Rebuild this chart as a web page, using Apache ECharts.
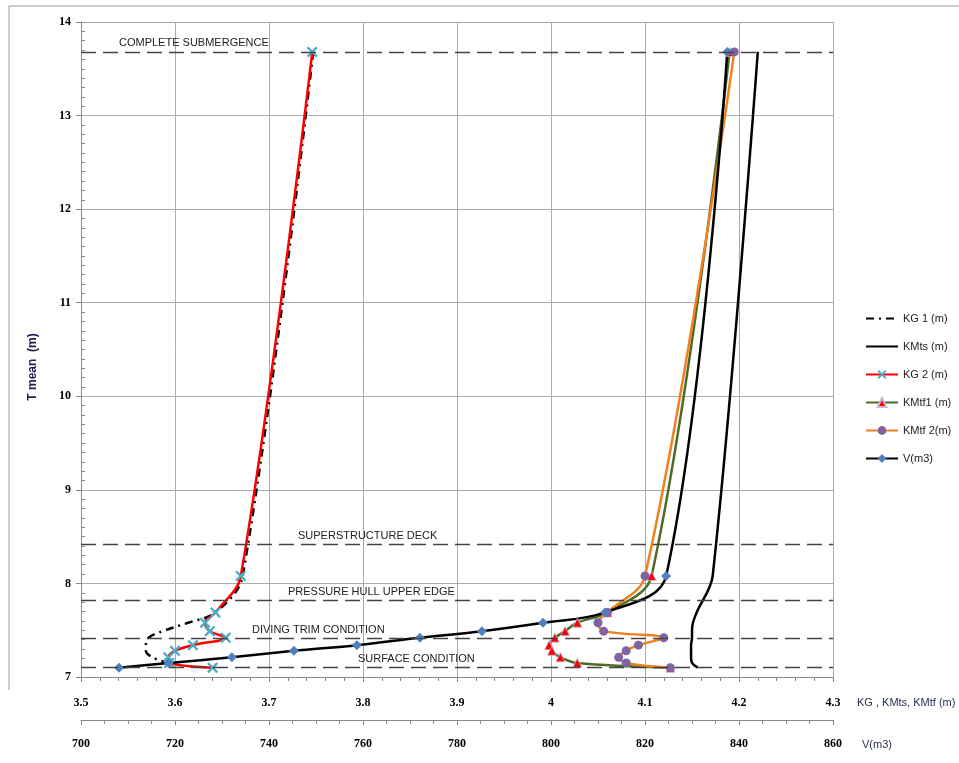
<!DOCTYPE html>
<html><head><meta charset="utf-8">
<script src="https://cdn.jsdelivr.net/npm/echarts@6/dist/echarts.min.js"></script>
<style>html,body{margin:0;padding:0;background:#fff}#c{width:959px;height:763px}</style>
</head><body><div id="c"></div>
<script>
// ---- data ----
const T      = [13.68, 8.08, 7.69, 7.58, 7.49, 7.42, 7.34, 7.28, 7.21, 7.15, 7.10];
const KG1    = [3.747, 3.672, 3.643, 3.614, 3.587, 3.572, 3.569, 3.569, 3.576, 3.592];
const KMts   = [4.220, 4.172, 4.155, 4.151, 4.150, 4.150, 4.149, 4.149, 4.149, 4.150, 4.156];
const KG2    = [3.746, 3.670, 3.643, 3.632, 3.637, 3.654, 3.619, 3.600, 3.593, 3.594, 3.640];
const KMtf1  = [4.190, 4.107, 4.060, 4.028, 4.015, 4.004, 3.998, 4.001, 4.010, 4.028, 4.127];
const KMtf2  = [4.195, 4.100, 4.060, 4.050, 4.056, 4.120, 4.093, 4.080, 4.072, 4.080, 4.127];
const Vm3    = [837.5, 824.5, 811.5, 798.3, 785.3, 772.1, 758.7, 745.3, 732.1, 718.7, 708.1];
const refT     = [13.68, 8.42, 7.82, 7.41, 7.10];
const refNames = ['COMPLETE SUBMERGENCE', 'SUPERSTRUCTURE DECK', 'PRESSURE HULL UPPER EDGE', 'DIVING TRIM CONDITION', 'SURFACE CONDITION'];
const kgTicks = [3.5, 4.3, 0.1];
const vTicks  = [700, 860, 20];
const tTicks  = [7, 14, 1];

// ---- layout (not data) ----
const refLabelDx = [38, 217, 207, 171, 277];

function pairs(xs) { return xs.map((x, i) => [x, T[i]]); }
const chart = echarts.init(document.getElementById('c'));
const lblFont = { fontFamily: 'Liberation Serif', fontWeight: 'bold', fontSize: 12, color: '#000' };
const xShape = 'path://M0,1.5L1.5,0L5,3.5L8.5,0L10,1.5L6.5,5L10,8.5L8.5,10L5,6.5L1.5,10L0,8.5L3.5,5Z';

chart.setOption({
  animation: false,
  backgroundColor: '#fff',
  grid: { left: 81, right: 126, top: 22, bottom: 86, containLabel: false },
  legend: {
    orient: 'vertical', left: 865, top: 313, padding: 0, itemWidth: 32, itemHeight: 11, itemGap: 17,
    textStyle: { fontFamily: 'Liberation Sans', fontSize: 11, color: '#222' },
    data: [
      { name: 'KG 1 (m)', itemStyle: { opacity: 0 } },
      { name: 'KMts (m)', itemStyle: { opacity: 0 } },
      'KG 2 (m)', 'KMtf1 (m)', 'KMtf 2(m)', 'V(m3)'
    ]
  },
  xAxis: [
    { type: 'value', min: kgTicks[0], max: kgTicks[1], interval: kgTicks[2], position: 'bottom',
      axisLine: { show: true, lineStyle: { color: '#888' } },
      axisTick: { show: true, length: 5, lineStyle: { color: '#888' } },
      minorTick: { show: true, splitNumber: 5, length: 4, lineStyle: { color: '#888' } },
      splitLine: { show: true, lineStyle: { color: '#aaa', width: 1 } },
      axisLabel: Object.assign({ margin: 20, formatter: v => String(Math.round(v * 10) / 10) }, lblFont) },
    { type: 'value', min: vTicks[0], max: vTicks[1], interval: vTicks[2], position: 'bottom', offset: 43,
      axisLine: { show: true, lineStyle: { color: '#888' } },
      axisTick: { show: true, length: 5, lineStyle: { color: '#888' } },
      minorTick: { show: true, splitNumber: 4, length: 4, lineStyle: { color: '#888' } },
      splitLine: { show: false },
      axisLabel: Object.assign({ margin: 18 }, lblFont) }
  ],
  yAxis: [
    { type: 'value', min: tTicks[0], max: tTicks[1], interval: tTicks[2],
      axisLine: { show: true, lineStyle: { color: '#888' } },
      axisTick: { show: true, length: 5, lineStyle: { color: '#888' } },
      splitLine: { show: true, lineStyle: { color: '#aaa', width: 1 } },
      axisLabel: Object.assign({ margin: 10 }, lblFont) },
    { type: 'value', min: tTicks[0], max: tTicks[1], interval: tTicks[2], position: 'left',
      axisLine: { show: false },
      axisTick: { show: false, inside: true },
      minorTick: { show: true, splitNumber: 10, length: 4, lineStyle: { color: '#888' } },
      splitLine: { show: false },
      axisLabel: { show: false } }
  ],
  graphic: [
    { type: 'polyline', shape: { points: [[9, 690], [9, 6], [960, 6]] }, style: { stroke: '#999', fill: null, lineWidth: 1 }, silent: true },
    { type: 'text', x: 33, y: 367, rotation: Math.PI / 2,
      style: { text: 'T mean  (m)', fontFamily: 'Liberation Sans', fontWeight: 'bold', fontSize: 12, fill: '#1f1f4f', align: 'center', verticalAlign: 'middle' } },
    { type: 'text', x: 857, y: 703,
      style: { text: 'KG , KMts, KMtf (m)', fontFamily: 'Liberation Sans', fontSize: 11, fill: '#1f2a50', align: 'left', verticalAlign: 'middle' } },
    { type: 'text', x: 862, y: 745,
      style: { text: 'V(m3)', fontFamily: 'Liberation Sans', fontSize: 11, fill: '#1f2a50', align: 'left', verticalAlign: 'middle' } }
  ],
  series: [
    { type: 'line', name: '_ref', data: [], silent: true,
      markLine: {
        silent: true, symbol: ['none', 'none'], animation: false,
        lineStyle: { color: '#444', type: [15, 7], width: 1.3 },
        data: refT.map((t, i) => ({
          yAxis: t, name: refNames[i],
          label: { show: true, formatter: '{b}', position: 'insideStartTop', distance: [refLabelDx[i], 3],
                   fontFamily: 'Liberation Sans', fontSize: 11, color: '#222' }
        }))
      } },
    { type: 'line', name: 'KG 1 (m)', data: pairs(KG1), smooth: 0.35, showSymbol: false, symbol: 'circle',
      lineStyle: { color: '#000', width: 2.5, type: [8, 5, 2, 5] }, itemStyle: { color: '#000' } },
    { type: 'line', name: 'KMts (m)', data: pairs(KMts), smooth: 0.35, showSymbol: false, symbol: 'circle',
      lineStyle: { color: '#000', width: 2.5 }, itemStyle: { color: '#000' } },
    { type: 'line', name: 'KG 2 (m)', data: pairs(KG2), smooth: 0.35, symbol: xShape, symbolSize: 11,
      lineStyle: { color: '#ff0000', width: 2.5 }, itemStyle: { color: '#4bacc6' } },
    { type: 'line', name: 'KMtf1 (m)', data: pairs(KMtf1), smooth: 0.35, symbol: 'triangle', symbolSize: 9,
      lineStyle: { color: '#4f6a28', width: 2.5 }, itemStyle: { color: '#ff0000', borderColor: '#c8b8dc', borderWidth: 0.8 } },
    { type: 'line', name: 'KMtf 2(m)', data: pairs(KMtf2), smooth: 0.35, symbol: 'circle', symbolSize: 9,
      lineStyle: { color: '#f08020', width: 2.5 }, itemStyle: { color: '#8064a2' } },
    { type: 'line', name: 'V(m3)', xAxisIndex: 1, data: Vm3.map((v, i) => [v, T[i]]), smooth: 0.35, symbol: 'diamond', symbolSize: 10,
      lineStyle: { color: '#000', width: 2.5 }, itemStyle: { color: '#4f81bd' } }
  ]
});
</script>
</body></html>
